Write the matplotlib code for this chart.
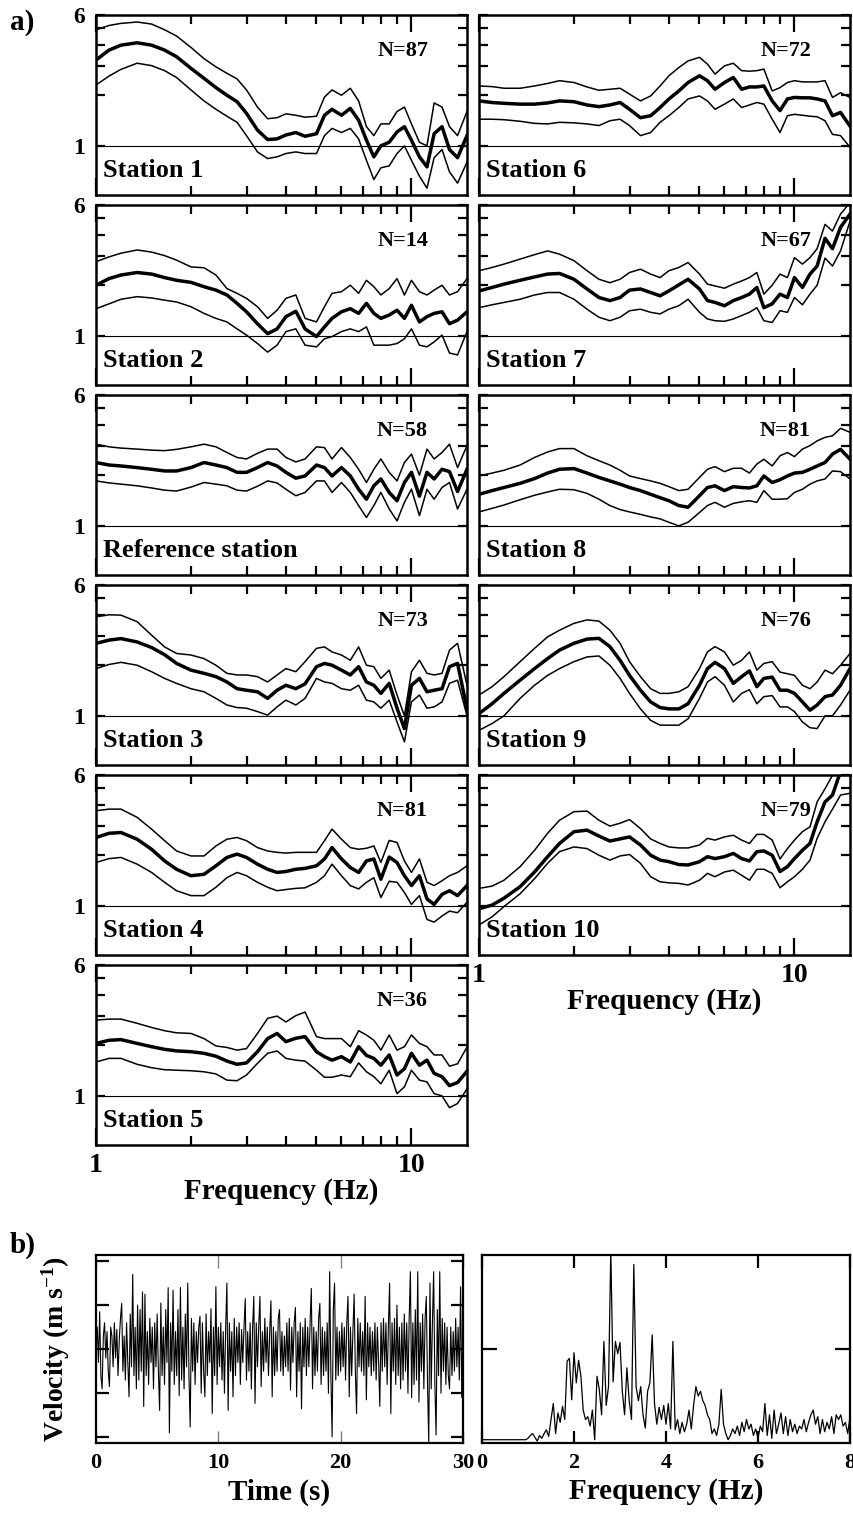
import numpy as np
import matplotlib
matplotlib.use('Agg')
import matplotlib.pyplot as plt
from matplotlib.ticker import FixedLocator, NullLocator, NullFormatter

plt.rcParams['font.family'] = ['Liberation Serif', 'DejaVu Serif']
plt.rcParams['font.weight'] = 'bold'
plt.rcParams['axes.labelweight'] = 'bold'
plt.rcParams['mathtext.fontset'] = 'custom'
plt.rcParams['mathtext.rm'] = 'Liberation Serif:bold'
plt.rcParams['mathtext.default'] = 'rm'

# ---- a) H/V spectral ratios: mean and +/- one standard deviation ----
freq = [1.0, 1.1, 1.2, 1.35, 1.5, 1.65, 1.8, 2.0, 2.2, 2.4, 2.6, 2.8, 3.0, 3.25, 3.5, 3.75, 4.0, 4.3, 4.6,
        5.0, 5.3, 5.6, 6.0, 6.4, 6.8, 7.2, 7.6, 8.0, 8.5, 9.0, 9.5, 10.0, 10.6, 11.2, 11.8, 12.5, 13.2, 14.0, 15.0]

s1_mean = [3.24, 3.71, 3.97, 4.10, 3.97, 3.71, 3.39, 2.89, 2.52, 2.22, 2.00, 1.83, 1.56, 1.24, 1.09, 1.10, 1.16, 1.20, 1.14,
           1.18, 1.52, 1.65, 1.52, 1.67, 1.42, 1.08, 0.86, 1.00, 1.05, 1.21, 1.30, 1.08, 0.86, 0.75, 1.18, 1.30, 0.95, 0.85, 1.15]
s1_hi = [4.9, 5.2, 5.35, 5.45, 5.3, 4.9, 4.5, 3.85, 3.3, 2.95, 2.7, 2.5, 2.15, 1.7, 1.45, 1.47, 1.55, 1.52, 1.48,
         1.5, 1.95, 2.15, 2.0, 2.2, 1.85, 1.3, 1.15, 1.35, 1.35, 1.6, 1.7, 1.35, 1.05, 1.0, 1.8, 1.7, 1.3, 1.15, 1.6]
s1_lo = [2.3, 2.6, 2.85, 3.1, 3.0, 2.8, 2.55, 2.15, 1.85, 1.65, 1.5, 1.38, 1.15, 0.92, 0.84, 0.86, 0.9, 0.92, 0.9,
         0.9, 1.15, 1.27, 1.2, 1.27, 1.1, 0.82, 0.63, 0.74, 0.76, 0.9, 1.0, 0.82, 0.66, 0.56, 0.85, 0.95, 0.7, 0.6, 0.8]

s2_mean = [2.0, 2.19, 2.3, 2.38, 2.33, 2.22, 2.14, 2.08, 1.96, 1.87, 1.75, 1.56, 1.39, 1.18, 1.03, 1.1, 1.3, 1.4, 1.1,
           0.99, 1.13, 1.27, 1.39, 1.45, 1.36, 1.56, 1.36, 1.27, 1.33, 1.42, 1.27, 1.52, 1.21, 1.3, 1.36, 1.39, 1.18, 1.24, 1.39]
s2_hi = [2.76, 2.95, 3.1, 3.24, 3.15, 3.0, 2.82, 2.57, 2.54, 2.3, 1.91, 1.79, 1.67, 1.49, 1.27, 1.42, 1.67, 1.75, 1.27,
         1.21, 1.49, 1.79, 1.83, 2.0, 1.79, 2.14, 1.96, 1.75, 1.91, 2.19, 1.75, 2.14, 1.83, 1.75, 1.87, 2.0, 1.75, 1.83, 2.19]
s2_lo = [1.45, 1.55, 1.65, 1.71, 1.68, 1.63, 1.59, 1.49, 1.36, 1.27, 1.21, 1.1, 1.01, 0.9, 0.8, 0.88, 1.06, 1.1, 0.88,
         0.86, 0.96, 0.99, 1.06, 1.1, 1.06, 1.13, 0.88, 0.88, 0.88, 0.9, 0.96, 1.1, 0.88, 0.86, 0.92, 1.01, 0.79, 0.77, 1.06]

ref_mean = [2.38, 2.3, 2.27, 2.22, 2.17, 2.12, 2.12, 2.22, 2.38, 2.3, 2.22, 2.08, 2.08, 2.22, 2.38, 2.27, 2.08, 1.92, 1.98,
            2.3, 2.22, 1.98, 2.22, 1.98, 1.65, 1.44, 1.73, 1.9, 1.58, 1.41, 1.81, 2.08, 1.5, 2.08, 1.9, 2.17, 2.1, 1.6, 2.17]
ref_hi = [3.06, 2.95, 2.9, 2.86, 2.82, 2.8, 2.85, 2.95, 3.06, 2.95, 2.73, 2.55, 2.5, 2.7, 2.86, 2.86, 2.55, 2.4, 2.5,
          2.95, 2.92, 2.5, 2.92, 2.55, 2.17, 1.81, 2.17, 2.5, 2.08, 1.85, 2.38, 2.67, 2.0, 2.86, 2.5, 2.73, 3.06, 2.22, 3.0]
ref_lo = [1.85, 1.8, 1.77, 1.73, 1.68, 1.63, 1.61, 1.7, 1.81, 1.77, 1.73, 1.63, 1.61, 1.72, 1.85, 1.8, 1.65, 1.51, 1.58,
          1.85, 1.85, 1.58, 1.81, 1.58, 1.32, 1.12, 1.32, 1.58, 1.26, 1.07, 1.38, 1.65, 1.15, 1.65, 1.44, 1.69, 1.81, 1.26, 1.65]

s3_mean = [2.7, 2.82, 2.88, 2.75, 2.55, 2.31, 2.05, 1.87, 1.79, 1.71, 1.59, 1.45, 1.42, 1.39, 1.27, 1.42, 1.52, 1.45, 1.55,
           1.96, 2.05, 2.0, 1.87, 1.75, 1.96, 1.59, 1.52, 1.36, 1.56, 1.11, 0.84, 1.52, 1.67, 1.39, 1.42, 1.45, 1.96, 2.05, 1.1]
s3_hi = [3.88, 3.99, 3.97, 3.63, 3.02, 2.57, 2.35, 2.3, 2.19, 2.0, 1.79, 1.75, 1.75, 1.71, 1.59, 1.75, 1.91, 1.83, 2.1,
         2.52, 2.57, 2.4, 2.3, 2.14, 2.57, 2.0, 1.96, 1.67, 1.87, 1.33, 1.0, 1.83, 2.14, 1.79, 1.75, 1.79, 2.46, 2.7, 1.52]
s3_lo = [1.91, 2.02, 2.08, 2.0, 1.83, 1.67, 1.56, 1.45, 1.39, 1.27, 1.16, 1.12, 1.11, 1.06, 1.01, 1.13, 1.24, 1.16, 1.27,
         1.67, 1.59, 1.56, 1.45, 1.42, 1.52, 1.24, 1.21, 1.11, 1.24, 0.92, 0.7, 1.21, 1.33, 1.11, 1.13, 1.21, 1.56, 1.63, 1.0]

s4_mean = [2.55, 2.7, 2.73, 2.49, 2.17, 1.85, 1.65, 1.51, 1.54, 1.73, 1.94, 2.03, 1.94, 1.77, 1.65, 1.58, 1.6, 1.65, 1.67,
           1.73, 1.9, 2.22, 1.9, 1.69, 1.58, 1.85, 1.9, 1.44, 1.95, 1.81, 1.51, 1.32, 1.51, 1.1, 1.02, 1.17, 1.23, 1.15, 1.32]
s4_hi = [3.68, 3.76, 3.76, 3.36, 2.86, 2.44, 2.12, 1.98, 1.98, 2.27, 2.49, 2.55, 2.44, 2.22, 2.12, 2.08, 2.06, 2.08, 2.08,
         2.08, 2.44, 2.86, 2.49, 2.22, 2.17, 2.2, 2.27, 1.81, 2.45, 2.38, 1.85, 1.58, 1.9, 1.38, 1.32, 1.41, 1.51, 1.58, 1.73]
s4_lo = [1.81, 1.91, 1.94, 1.77, 1.58, 1.38, 1.23, 1.15, 1.15, 1.29, 1.47, 1.58, 1.51, 1.38, 1.29, 1.23, 1.25, 1.27, 1.28,
         1.38, 1.51, 1.77, 1.51, 1.32, 1.26, 1.38, 1.47, 1.12, 1.4, 1.38, 1.2, 1.02, 1.15, 0.83, 0.8, 0.87, 0.93, 0.91, 1.05]

s5_mean = [2.05, 2.14, 2.16, 2.05, 1.96, 1.89, 1.85, 1.83, 1.79, 1.72, 1.61, 1.54, 1.57, 1.83, 2.19, 2.35, 2.1, 2.2, 2.25,
           1.83, 1.71, 1.63, 1.71, 1.59, 1.96, 1.74, 1.67, 1.52, 1.75, 1.33, 1.45, 1.79, 1.52, 1.63, 1.36, 1.3, 1.15, 1.2, 1.4]
s5_hi = [2.82, 2.86, 2.86, 2.7, 2.55, 2.44, 2.37, 2.35, 2.19, 1.98, 1.94, 1.87, 1.91, 2.35, 2.89, 2.98, 2.75, 3.0, 3.15,
         2.25, 2.19, 2.19, 2.19, 1.96, 2.44, 2.3, 2.14, 1.87, 2.3, 1.87, 1.96, 2.3, 2.05, 1.96, 1.75, 1.75, 1.5, 1.55, 1.95]
s5_lo = [1.59, 1.67, 1.67, 1.54, 1.47, 1.43, 1.42, 1.41, 1.39, 1.35, 1.24, 1.23, 1.33, 1.56, 1.79, 1.85, 1.67, 1.63, 1.61,
         1.42, 1.29, 1.29, 1.33, 1.3, 1.57, 1.39, 1.3, 1.18, 1.42, 1.03, 1.13, 1.42, 1.24, 1.21, 1.03, 1.0, 0.85, 0.9, 1.1]

s6_mean = [1.85, 1.81, 1.79, 1.77, 1.77, 1.8, 1.85, 1.83, 1.75, 1.71, 1.75, 1.81, 1.65, 1.47, 1.51, 1.69, 1.9, 2.12, 2.38,
           2.61, 2.44, 2.17, 2.38, 2.55, 2.17, 2.24, 2.24, 2.27, 1.85, 1.62, 1.9, 1.94, 1.93, 1.93, 1.9, 1.85, 1.51, 1.58, 1.31]
s6_hi = [2.27, 2.25, 2.2, 2.2, 2.27, 2.35, 2.44, 2.38, 2.24, 2.14, 2.17, 2.2, 2.03, 1.85, 1.98, 2.27, 2.61, 2.92, 3.2,
         3.36, 3.06, 2.67, 2.99, 3.1, 2.8, 2.78, 2.8, 2.86, 2.12, 2.22, 2.38, 2.44, 2.4, 2.4, 2.4, 2.44, 1.94, 2.07, 1.94]
s6_lo = [1.44, 1.44, 1.43, 1.4, 1.36, 1.35, 1.38, 1.37, 1.35, 1.32, 1.41, 1.44, 1.32, 1.15, 1.2, 1.38, 1.51, 1.69, 1.9,
         1.98, 1.85, 1.65, 1.77, 1.9, 1.69, 1.75, 1.81, 1.77, 1.44, 1.2, 1.51, 1.54, 1.52, 1.5, 1.49, 1.41, 1.17, 1.15, 0.98]

s7_mean = [1.85, 1.94, 2.03, 2.14, 2.24, 2.33, 2.35, 2.17, 1.9, 1.69, 1.62, 1.69, 1.87, 1.9, 1.81, 1.73, 1.85, 2.01, 2.17,
           1.9, 1.62, 1.58, 1.51, 1.62, 1.69, 1.77, 1.94, 1.47, 1.55, 1.77, 1.69, 2.22, 1.94, 2.33, 2.6, 3.8, 3.3, 4.42, 5.3]
s7_hi = [2.44, 2.55, 2.67, 2.86, 3.04, 3.2, 3.06, 2.8, 2.44, 2.17, 2.07, 2.17, 2.38, 2.49, 2.33, 2.22, 2.44, 2.55, 2.73,
         2.33, 2.03, 1.98, 1.92, 2.03, 2.12, 2.22, 2.38, 1.77, 2.0, 2.33, 2.22, 2.92, 2.67, 2.92, 3.3, 4.6, 4.2, 5.3, 6.2]
s7_lo = [1.47, 1.53, 1.58, 1.65, 1.75, 1.81, 1.81, 1.65, 1.44, 1.29, 1.23, 1.29, 1.41, 1.44, 1.38, 1.35, 1.44, 1.51, 1.65,
         1.38, 1.26, 1.23, 1.22, 1.26, 1.32, 1.38, 1.47, 1.23, 1.2, 1.41, 1.38, 1.69, 1.53, 1.77, 2.0, 2.9, 2.6, 3.2, 4.8]

s8_mean = [1.54, 1.62, 1.69, 1.79, 1.91, 2.06, 2.17, 2.19, 2.06, 1.94, 1.85, 1.77, 1.69, 1.62, 1.54, 1.47, 1.41, 1.32, 1.29,
           1.51, 1.69, 1.73, 1.62, 1.71, 1.69, 1.68, 1.73, 1.98, 1.81, 1.88, 1.98, 2.06, 2.08, 2.17, 2.27, 2.38, 2.67, 2.85, 2.49]
s8_hi = [1.98, 2.06, 2.14, 2.3, 2.55, 2.75, 2.88, 2.88, 2.61, 2.44, 2.3, 2.14, 1.98, 1.91, 1.85, 1.79, 1.71, 1.62, 1.65,
         1.94, 2.17, 2.25, 2.1, 2.2, 2.2, 2.06, 2.33, 2.49, 2.27, 2.61, 2.73, 2.58, 2.86, 3.0, 3.2, 3.36, 3.43, 3.8, 3.6]
s8_lo = [1.21, 1.27, 1.33, 1.43, 1.52, 1.59, 1.65, 1.64, 1.56, 1.44, 1.32, 1.25, 1.21, 1.17, 1.13, 1.1, 1.05, 1.0, 1.05,
         1.2, 1.32, 1.38, 1.29, 1.36, 1.39, 1.41, 1.38, 1.62, 1.44, 1.44, 1.45, 1.58, 1.65, 1.77, 1.85, 1.9, 2.12, 2.1, 1.9]

s9_mean = [1.03, 1.18, 1.36, 1.63, 1.91, 2.19, 2.46, 2.7, 2.86, 2.89, 2.58, 2.14, 1.74, 1.42, 1.21, 1.12, 1.1, 1.1, 1.18,
           1.52, 1.91, 2.08, 1.91, 1.56, 1.71, 1.85, 1.49, 1.67, 1.7, 1.42, 1.42, 1.36, 1.21, 1.08, 1.16, 1.3, 1.33, 1.52, 1.91]
s9_hi = [1.33, 1.49, 1.71, 2.1, 2.52, 2.95, 3.23, 3.55, 3.72, 3.66, 3.23, 2.7, 2.1, 1.71, 1.45, 1.36, 1.36, 1.39, 1.49,
         1.91, 2.4, 2.58, 2.4, 2.0, 2.14, 2.4, 1.87, 2.05, 2.1, 1.82, 1.78, 1.74, 1.52, 1.45, 1.59, 1.87, 1.78, 2.0, 2.35]
s9_lo = [0.82, 0.9, 1.0, 1.27, 1.52, 1.74, 1.91, 2.1, 2.24, 2.27, 2.0, 1.67, 1.36, 1.1, 0.94, 0.88, 0.88, 0.88, 0.96,
         1.27, 1.59, 1.71, 1.52, 1.21, 1.36, 1.43, 1.18, 1.3, 1.32, 1.13, 1.13, 1.06, 0.92, 0.85, 0.84, 1.0, 1.0, 1.16, 1.42]

s10_mean = [0.96, 1.01, 1.11, 1.3, 1.59, 1.96, 2.35, 2.76, 2.82, 2.6, 2.43, 2.5, 2.57, 2.3, 2.0, 1.87, 1.83, 1.76, 1.75,
            1.83, 1.96, 1.91, 1.96, 2.05, 1.91, 1.85, 2.1, 2.12, 2.0, 1.6, 1.71, 1.91, 2.14, 2.35, 3.16, 4.15, 4.56, 6.3, 7.5]
s10_hi = [1.27, 1.31, 1.42, 1.71, 2.14, 2.7, 3.23, 3.63, 3.66, 3.23, 2.98, 3.1, 3.26, 2.88, 2.5, 2.35, 2.24, 2.21, 2.21,
          2.3, 2.52, 2.46, 2.57, 2.63, 2.46, 2.35, 2.66, 2.66, 2.46, 1.9, 2.19, 2.46, 2.76, 2.95, 4.15, 4.97, 5.98, 7.5, 8.5]
s10_lo = [0.77, 0.86, 0.99, 1.18, 1.45, 1.79, 2.1, 2.24, 2.19, 2.0, 1.87, 1.98, 2.02, 1.79, 1.49, 1.39, 1.37, 1.36, 1.33,
          1.42, 1.56, 1.49, 1.59, 1.63, 1.52, 1.42, 1.65, 1.65, 1.56, 1.28, 1.39, 1.49, 1.65, 1.87, 2.52, 3.16, 3.76, 4.56, 4.67]

left_names = ['Station 1', 'Station 2', 'Reference station', 'Station 3', 'Station 4', 'Station 5']
left_n = [87, 14, 58, 73, 81, 36]
right_names = ['Station 6', 'Station 7', 'Station 8', 'Station 9', 'Station 10']
right_n = [72, 67, 81, 76, 79]

# ---- b) example noise record and its amplitude spectrum ----
velocity = [0.1, 0.5, -0.3, 0.85, -0.6, -0.9, 0.3, 0.6, -0.2, 0.4,
            -0.5, -0.85, 0.5, 0.3, -0.4, 0.6, -0.2, 0.45, -0.6, 0.2,
            0.7, 1.04, -0.5, 0.3, -0.7, 0.6, -0.3, -1.08, 0.8, -0.4,
            1.7, -0.6, 0.5, -0.9, 1.0, -0.7, 0.9, -0.5, 1.3, -1.3,
            1.25, -0.6, 0.4, -0.8, 0.7, -0.3, 0.5, -0.9, 0.6, -0.4,
            0.8, -0.5, -1.39, 1.05, -0.6, 0.5, -0.8, 0.9, -0.3, 1.4,
            -1.9, 0.6, -0.5, 1.34, -0.8, 0.4, -0.6, 0.9, -1.05, 1.4,
            -0.7, 0.5, -0.9, 0.8, -0.4, 1.5, -0.6, -1.77, 0.7, -0.5,
            0.6, -0.8, 0.4, -0.3, 0.5, 0.75, -1.0, 0.6, -0.5, -1.08,
            0.8, -0.6, 0.4, -0.3, 0.92, -1.46, 0.5, -0.6, 1.42, -0.8,
            0.5, -0.4, 0.6, -0.7, 0.4, -1.0, 0.5, 1.5, -1.39, 0.6,
            -0.5, 0.4, -1.08, 0.7, -0.6, 0.5, -0.3, 0.6, -0.8, 0.45,
            -0.3, 0.5, 1.15, -0.7, 0.4, -0.5, 0.6, -0.9, 0.5, 1.2,
            -1.23, 0.6, -0.4, 0.5, 1.2, -0.85, 0.4, -0.5, 0.7, -0.3,
            0.5, -0.6, 0.4, 1.1, -1.08, 0.5, -0.6, 0.4, -0.5, 0.7,
            0.9, -0.5, 0.4, -0.6, 0.3, -0.4, 0.6, -0.5, 0.7, -0.93,
            0.5, -0.3, 0.6, 0.95, -1.08, 0.4, -0.5, 0.6, -1.35, 0.5,
            -0.4, 0.7, -0.6, 0.5, -0.4, 0.6, 1.38, -0.9, 0.5, -0.6,
            0.4, -0.5, 0.7, 1.04, -0.8, 0.5, -0.6, 0.4, -0.5, 0.6,
            -1.0, 1.76, -0.6, -1.99, 0.9, 1.5, -0.7, 0.5, -0.6, 0.4,
            -0.5, 0.6, -0.4, 0.5, -0.7, 0.6, 1.2, -1.08, 0.5, -0.6,
            0.4, 1.25, -0.5, -1.46, 0.7, -0.4, 0.6, -0.5, 0.4, -0.6,
            1.2, -1.15, 0.6, -0.4, 0.5, -0.6, 0.4, -0.5, 0.6, -0.7,
            0.5, -0.3, -1.3, 0.6, -0.5, 0.7, -0.4, 0.6, -0.8, 0.5,
            1.5, -1.46, 0.6, -0.5, 0.7, -0.8, 1.0, -0.6, 0.5, -0.9,
            0.6, -0.7, 0.8, -0.5, 0.6, -1.0, 0.7, 1.76, -1.1, 0.6,
            -0.8, 0.9, -0.7, 1.76, -1.2, 0.6, -0.5, 0.8, -0.9, 0.7,
            1.2, -0.8, -2.14, 1.5, -0.9, 0.6, 1.76, -0.8, -1.95, 0.9,
            -0.6, 1.76, -1.0, 0.7, -0.5, 0.6, -0.8, 0.5, -0.6, -0.9,
            0.5, -0.6, 0.4, -0.5, 0.7, -0.4, 0.5, -0.7, 1.42, -1.1,
            0.6]
time_s = np.linspace(0, 30, len(velocity))

spectrum = [0.035, 0.035, 0.035, 0.035, 0.035, 0.035, 0.035, 0.035, 0.035, 0.035,
            0.035, 0.035, 0.035, 0.035, 0.035, 0.035, 0.035, 0.035, 0.035, 0.035,
            0.05, 0.08, 0.1, 0.06, 0.02, 0.08, 0.05, 0.1, 0.14, 0.07,
            0.25, 0.42, 0.1, 0.32, 0.22, 0.39, 0.25, 0.87, 0.9, 0.46,
            0.96, 0.64, 0.88, 0.71, 0.35, 0.25, 0.28, 0.18, 0.35, 0.035,
            0.71, 0.57, 0.3, 1.08, 0.4, 0.6, 2.05, 0.65, 1.08, 0.95,
            1.07, 0.55, 0.3, 0.8, 0.45, 0.25, 1.9, 0.6, 0.45, 0.6,
            0.3, 0.16, 0.55, 0.64, 1.15, 0.42, 0.2, 0.38, 0.25, 0.4,
            0.2, 0.42, 0.15, 1.08, 0.14, 0.25, 0.1, 0.22, 0.12, 0.2,
            0.35, 0.15, 0.4, 0.6, 0.5, 0.55, 0.45, 0.4, 0.3, 0.25,
            0.1, 0.15, 0.08, 0.2, 0.57, 0.2, 0.1, 0.035, 0.08, 0.15,
            0.1, 0.18, 0.08, 0.22, 0.12, 0.25, 0.15, 0.2, 0.08, 0.15,
            0.05, 0.18, 0.12, 0.42, 0.08, 0.3, 0.05, 0.35, 0.1, 0.2,
            0.32, 0.1, 0.28, 0.08, 0.25, 0.12, 0.2, 0.1, 0.18, 0.15,
            0.25, 0.12, 0.22, 0.3, 0.35, 0.2, 0.28, 0.1, 0.25, 0.12,
            0.22, 0.15, 0.28, 0.1, 0.3, 0.25, 0.3, 0.18, 0.22, 0.1,
            0.28]
spec_freq = np.linspace(0, 8, len(spectrum))

W, H = 854, 1518
fig = plt.figure(figsize=(W / 100, H / 100), dpi=100)


def px_axes(x0, y0, x1, y1):
    # axes placed by pixel box (top-left origin)
    return fig.add_axes([x0 / W, 1 - y1 / H, (x1 - x0) / W, (y1 - y0) / H])


def hv_panel(ax, name, n, mean, hi, lo, ylabels, xlabels):
    ax.set_xscale('log')
    ax.set_yscale('log')
    ax.axhline(1, color='k', lw=0.8)
    ax.plot(freq, hi, color='k', lw=1.1)
    ax.plot(freq, lo, color='k', lw=1.1)
    ax.plot(freq, mean, color='k', lw=2.5)
    ax.set_xlim(1, 15)
    ax.set_ylim(0.51, 6)
    ax.xaxis.set_major_locator(FixedLocator([1, 10]))
    ax.xaxis.set_minor_locator(FixedLocator([2, 3, 4, 5, 6, 7, 8, 9]))
    ax.xaxis.set_minor_formatter(NullFormatter())
    ax.set_xticklabels(['1', '10'] if xlabels else ['', ''])
    ax.yaxis.set_major_locator(FixedLocator([1, 2, 3, 4, 5, 6]))
    ax.yaxis.set_minor_locator(NullLocator())
    ax.set_yticklabels(['1', '', '', '', '', '6'] if ylabels else [''] * 6)
    ax.tick_params(which='both', direction='in', top=True, right=True, width=1.6)
    ax.tick_params(axis='y', length=6.5, labelsize=17, pad=8)
    ax.tick_params(axis='x', which='minor', length=6.5)
    ax.tick_params(axis='x', which='major', length=12, labelsize=20, pad=6)
    for sp in ax.spines.values():
        sp.set_linewidth(1.8)
    ax.text(0.018, 0.1, name, transform=ax.transAxes, fontsize=19)
    ax.text(0.895, 0.77, 'N=%d' % n, transform=ax.transAxes, ha='right', fontsize=16)
    if xlabels:
        ax.set_xlabel('Frequency (Hz)', fontsize=21, labelpad=0)


left_data = [(s1_mean, s1_hi, s1_lo), (s2_mean, s2_hi, s2_lo), (ref_mean, ref_hi, ref_lo),
             (s3_mean, s3_hi, s3_lo), (s4_mean, s4_hi, s4_lo), (s5_mean, s5_hi, s5_lo)]
right_data = [(s6_mean, s6_hi, s6_lo), (s7_mean, s7_hi, s7_lo), (s8_mean, s8_hi, s8_lo),
              (s9_mean, s9_hi, s9_lo), (s10_mean, s10_hi, s10_lo)]
row_tops = [15, 205, 395, 585, 775, 965]

for i, (name, n, d) in enumerate(zip(left_names, left_n, left_data)):
    ax = px_axes(96, row_tops[i], 467, row_tops[i] + 180)
    hv_panel(ax, name, n, d[0], d[1], d[2], True, i == len(left_names) - 1)

for i, (name, n, d) in enumerate(zip(right_names, right_n, right_data)):
    ax = px_axes(479, row_tops[i], 850, row_tops[i] + 180)
    hv_panel(ax, name, n, d[0], d[1], d[2], False, i == len(right_names) - 1)

fig.text(10 / W, 1 - 22 / H, 'a)', fontsize=21, va='center')
fig.text(10 / W, 1 - 1245 / H, 'b)', fontsize=21, va='center')

# b) left: velocity record
axt = px_axes(96, 1255, 463, 1443)
axt.plot(time_s, velocity, color='k', lw=0.8)
axt.set_xlim(0, 30)
axt.set_ylim(-2.13, 2.14)
axt.set_xticks([0, 10, 20, 30])
axt.set_yticks([-2, -1, 0, 1, 2])
axt.set_yticklabels([])
axt.tick_params(axis='x', direction='in', top=True, length=9, width=1.0, color='0.5', labelsize=16, pad=7)
axt.tick_params(axis='y', direction='in', right=True, length=9, width=1.6)
axt.set_xlabel('Time (s)', fontsize=21, labelpad=4)
axt.set_ylabel('Velocity (m s$^{-1}$)', fontsize=20, labelpad=14)
for sp in axt.spines.values():
    sp.set_linewidth(1.6)

# b) right: amplitude spectrum
axs = px_axes(482, 1255, 850, 1443)
axs.plot(spec_freq, spectrum, color='k', lw=0.9)
axs.set_xlim(0, 8)
axs.set_ylim(0, 2)
axs.set_xticks([0, 2, 4, 6, 8])
axs.set_yticks([1])
axs.set_yticklabels([])
axs.tick_params(axis='x', direction='in', top=True, length=9, width=1.6, labelsize=16, pad=7)
axs.tick_params(axis='y', direction='in', right=True, length=11, width=1.6)
axs.set_xlabel('Frequency (Hz)', fontsize=21, labelpad=4)
for sp in axs.spines.values():
    sp.set_linewidth(1.6)

fig.savefig('out.png', dpi=100)
